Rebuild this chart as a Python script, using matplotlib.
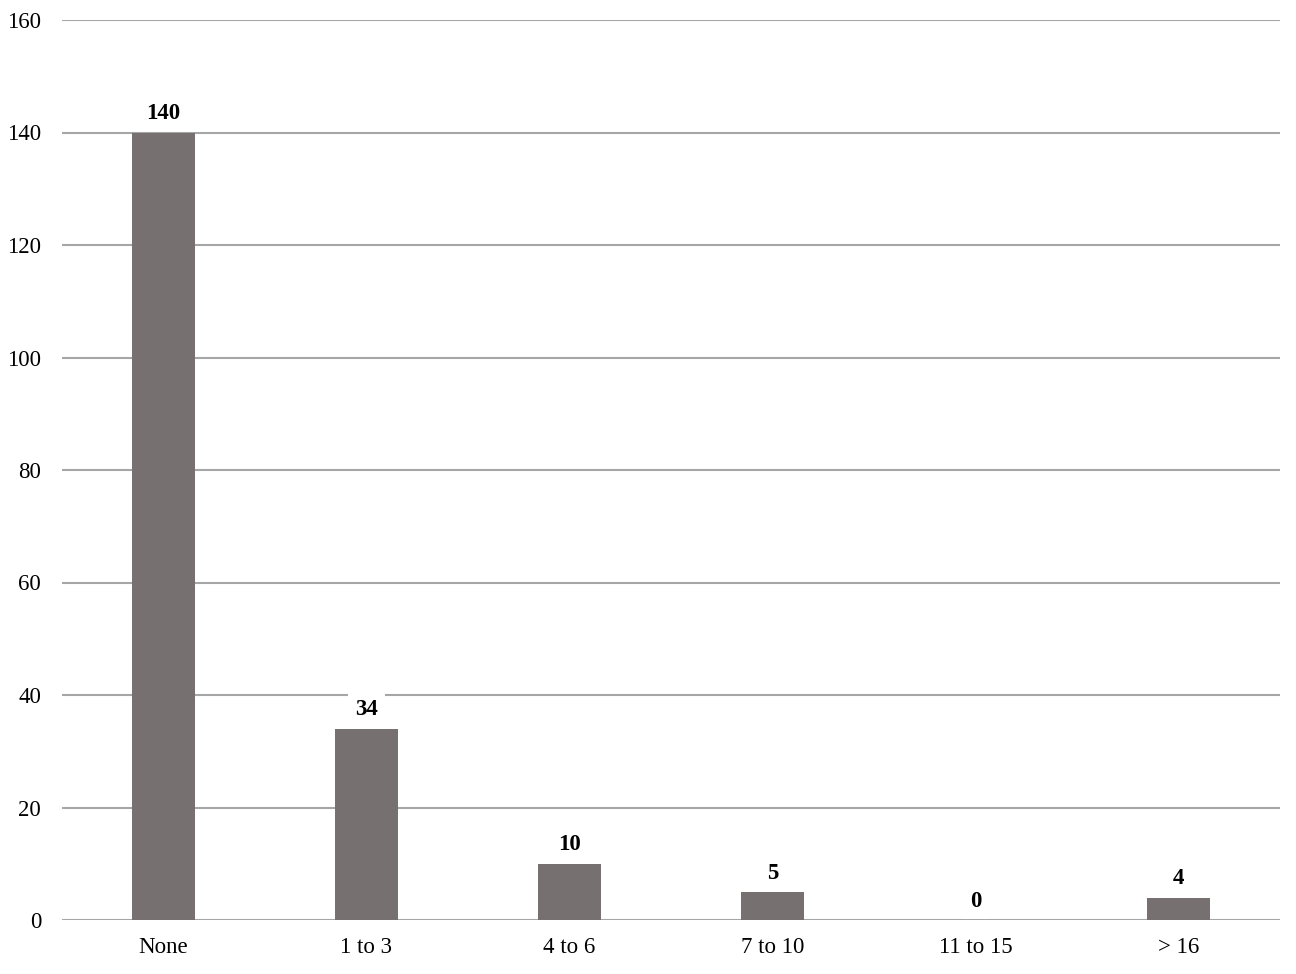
import matplotlib.pyplot as plt
import numpy as np

plt.rcParams['font.family'] = ['Liberation Serif', 'DejaVu Serif']

categories = ['None', '1 to 3', '4 to 6', '7 to 10', '11 to 15', '> 16']
counts = [140, 34, 10, 5, 0, 4]
yticks = [0, 20, 40, 60, 80, 100, 120, 140, 160]

bar_color = '#767170'
grid_color = '#a6a6a6'

fig = plt.figure(figsize=(12.96, 9.74), dpi=100)
ax = fig.add_axes([62/1296, 1 - 920/974, 1218/1296, 900/974])

x = np.arange(len(categories))
bars = ax.bar(x, counts, width=0.31, color=bar_color, zorder=3)

ax.set_xlim(-0.5, len(categories) - 0.5)
ax.set_ylim(0, 160)
ax.set_yticks(yticks)
ax.set_xticks(x)
ax.set_xticklabels(categories)
ax.tick_params(axis='both', length=0, labelsize=16.5, colors='black')
ax.tick_params(axis='x', pad=12)
ax.tick_params(axis='y', pad=15)

ax.yaxis.grid(True, color=grid_color, linewidth=1.5, zorder=0)
for s in ax.spines.values():
    s.set_visible(False)

# value labels above each bar
for xi, v in zip(x, counts):
    ax.annotate(str(v), (xi, v), xytext=(0, 6), textcoords='offset points',
                ha='center', va='bottom', fontsize=16.5, fontweight='bold',
                bbox=dict(boxstyle='square,pad=0.3', fc='white', ec='none'),
                zorder=4)

fig.savefig('out.png', dpi=100)
